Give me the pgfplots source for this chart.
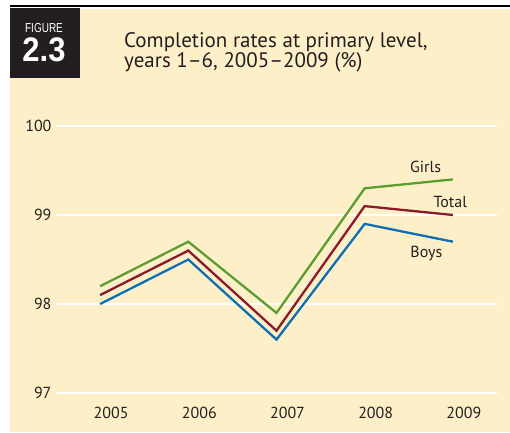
\documentclass[border=0pt]{standalone}
\usepackage{fontspec}
\setmainfont{PT Sans}
\newfontfamily\boxfont{Liberation Sans}
\usepackage{graphicx}
\usepackage{pgfplots}
\pgfplotsset{compat=1.18}
\definecolor{cream}{HTML}{FDF0C9}
\definecolor{boxblack}{HTML}{231F20}
\definecolor{txt}{HTML}{231F20}
\definecolor{girls}{HTML}{5A9E32}
\definecolor{total}{HTML}{8B1A2B}
\definecolor{boys}{HTML}{0E6FB4}
\begin{document}
\begin{tikzpicture}
% page background, top rule and figure box
\fill[white] (0pt,0pt) rectangle (510pt,432pt);
\fill[cream] (10pt,0pt) rectangle (510pt,423pt);
\fill[black] (10pt,424.5pt) rectangle (510pt,427pt);
\fill[boxblack] (10pt,353.7pt) rectangle (80pt,423.7pt);
\node[anchor=base, white, inner sep=0] at (44pt,399pt)
  {\scalebox{1}[1.3]{\boxfont\fontsize{10}{10}\selectfont FIGURE}};
\node[anchor=base, white, inner sep=0] at (44pt,370pt)
  {\scalebox{1}[1.1]{\boxfont\bfseries\fontsize{31}{31}\selectfont 2.3}};
\node[anchor=base west, text=txt, inner sep=0,
  font=\fontsize{21}{21}\selectfont] at (124pt,384pt) {Completion rates at primary level,};
\node[anchor=base west, text=txt, inner sep=0,
  font=\fontsize{21}{21}\selectfont] at (124pt,364pt) {years 1–6, 2005–2009 (\%)};
\begin{axis}[
    at={(56pt,39pt)}, anchor=south west,
    scale only axis, width=441pt, height=267pt,
    xmin=2004.5, xmax=2009.5, ymin=97, ymax=100,
    axis line style={draw=none},
    major tick length=0pt,
    xtick={2005,2006,2007,2008,2009},
    ytick={97,98,99,100},
    ymajorgrids,
    grid style={white, line width=2.5pt},
    clip=false,
    tick label style={font=\fontsize{16}{16}\selectfont, text=txt},
    /pgf/number format/assume math mode=true,
    /pgf/number format/1000 sep={},
    xticklabel style={xshift=11pt, yshift=-11pt},
    yticklabel style={xshift=-1pt},
  ]
  \addplot[girls, line width=2.3pt] coordinates {(2005,98.2) (2006,98.7) (2007,97.9) (2008,99.3) (2009,99.4)};
  \addplot[total, line width=2.3pt] coordinates {(2005,98.1) (2006,98.6) (2007,97.7) (2008,99.1) (2009,99.0)};
  \addplot[boys, line width=2.3pt] coordinates {(2005,98.0) (2006,98.5) (2007,97.6) (2008,98.9) (2009,98.7)};
  \node[text=txt, font=\fontsize{16}{16}\selectfont] at (axis cs:2008.69,99.535) {Girls};
  \node[text=txt, font=\fontsize{16}{16}\selectfont] at (axis cs:2008.97,99.15) {Total};
  \node[text=txt, font=\fontsize{16}{16}\selectfont] at (axis cs:2008.70,98.565) {Boys};
\end{axis}
\end{tikzpicture}
\end{document}
